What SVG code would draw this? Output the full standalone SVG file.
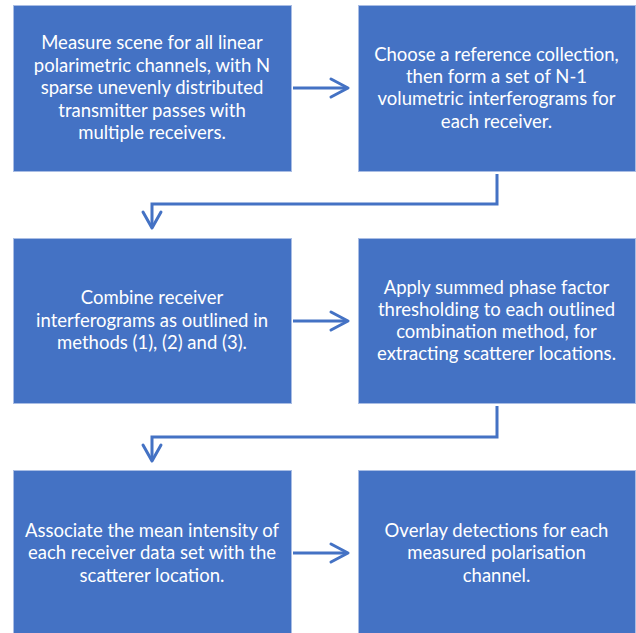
<svg xmlns="http://www.w3.org/2000/svg" width="636" height="633" viewBox="0 0 636 633">
<defs>
<style>
.box{fill:#4472C4;stroke:#A9BDE4;stroke-width:1}
.t{font-family:Lato,"Open Sans","Liberation Sans",sans-serif;font-size:18.5px;fill:#ffffff;text-anchor:middle}
.c{fill:none;stroke:#4472C4;stroke-width:3;stroke-linejoin:miter}
.h{fill:none;stroke:#4472C4;stroke-width:3;stroke-linecap:round;stroke-linejoin:round}
</style>
</defs>
<rect width="636" height="633" fill="#ffffff"/>
<g id="node1">
<rect class="box" x="13.5" y="5.5" width="278" height="166"/>
<text class="t" x="152" y="49">Measure scene for all linear</text>
<text class="t" x="152" y="71.5">polarimetric channels, with N</text>
<text class="t" x="152" y="94">sparse unevenly distributed</text>
<text class="t" x="152" y="116.5">transmitter passes with</text>
<text class="t" x="152" y="139">multiple receivers.</text>
</g>
<g id="node2">
<rect class="box" x="358.5" y="5.5" width="277" height="166"/>
<text class="t" x="496.5" y="61">Choose a reference collection,</text>
<text class="t" x="496.5" y="83">then form a set of N-1</text>
<text class="t" x="496.5" y="105">volumetric interferograms for</text>
<text class="t" x="496.5" y="127.5">each receiver.</text>
</g>
<g id="node3">
<rect class="box" x="13.5" y="238.5" width="278" height="165"/>
<text class="t" x="152" y="304">Combine receiver</text>
<text class="t" x="152" y="327">interferograms as outlined in</text>
<text class="t" x="152" y="349">methods (1), (2) and (3).</text>
</g>
<g id="node4">
<rect class="box" x="358.5" y="238.5" width="277" height="165"/>
<text class="t" x="496.5" y="294">Apply summed phase factor</text>
<text class="t" x="496.5" y="316">thresholding to each outlined</text>
<text class="t" x="496.5" y="338">combination method, for</text>
<text class="t" x="496.5" y="360">extracting scatterer locations.</text>
</g>
<g id="node5">
<rect class="box" x="13.5" y="470.5" width="278" height="166"/>
<text class="t" x="152" y="537">Associate the mean intensity of</text>
<text class="t" x="152" y="559">each receiver data set with the</text>
<text class="t" x="152" y="582">scatterer location.</text>
</g>
<g id="node6">
<rect class="box" x="358.5" y="470.5" width="277" height="166"/>
<text class="t" x="496.5" y="537">Overlay detections for each</text>
<text class="t" x="496.5" y="559">measured polarisation</text>
<text class="t" x="496.5" y="582">channel.</text>
</g>
<g id="connectors">
<path class="c" d="M293 88 H347"/>
<path class="h" d="M331 79 L348 88 L331 97"/>
<path class="c" d="M497 174 V204 H152 V227"/>
<path class="h" d="M143 212 L152 228 L161 212"/>
<path class="c" d="M293 321 H347"/>
<path class="h" d="M331 312 L348 321 L331 330"/>
<path class="c" d="M497 406 V437 H152 V460"/>
<path class="h" d="M143 445 L152 461 L161 445"/>
<path class="c" d="M293 553 H347"/>
<path class="h" d="M331 544 L348 553 L331 562"/>
</g>
</svg>
